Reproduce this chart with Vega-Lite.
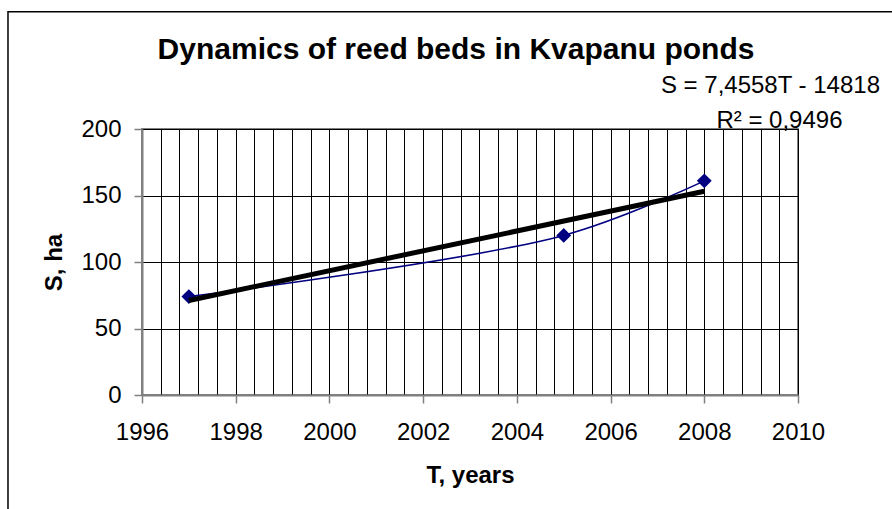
{
  "$schema": "https://vega.github.io/schema/vega-lite/v6.json",
  "width": 656,
  "height": 266,
  "autosize": {"type": "none"},
  "padding": {"left": 142, "top": 129, "right": 94, "bottom": 114},
  "background": "white",
  "title": {
    "text": "Dynamics of reed beds in Kvapanu ponds",
    "fontSize": 30,
    "font": "Liberation Sans",
    "fontWeight": "bold",
    "color": "black",
    "anchor": "middle",
    "frame": "group",
    "dx": -14,
    "offset": -54
  },
  "config": {
    "font": "Liberation Sans",
    "view": {"stroke": "#808080", "strokeWidth": 2}
  },
  "datasets": {
    "reeds": [
      {"T": 1997, "S": 74},
      {"T": 2005, "S": 120},
      {"T": 2008, "S": 161}
    ],
    "equation": [
      {"line1": "S = 7,4558T - 14818", "line2": "R² = 0,9496"}
    ]
  },
  "resolve": {"axis": {"x": "independent", "y": "independent"}},
  "layer": [
    {
      "data": {"name": "equation"},
      "mark": {"type": "rect", "filled": false, "stroke": "black", "strokeWidth": 1.5, "fill": null},
      "encoding": {
        "x": {"datum": 1993.14, "type": "quantitative", "axis": null},
        "x2": {"datum": 2013.5},
        "y": {"datum": 288.2, "type": "quantitative", "axis": null},
        "y2": {"datum": -120}
      }
    },
    {
      "data": {"name": "reeds"},
      "encoding": {
        "x": {
          "field": "T", "type": "quantitative",
          "scale": {"domain": [1996, 2010], "nice": false, "zero": false},
          "axis": {
            "values": [1996, 1996.4, 1996.8, 1997.2, 1997.6, 1998, 1998.4, 1998.8, 1999.2, 1999.6, 2000, 2000.4, 2000.8, 2001.2, 2001.6, 2002, 2002.4, 2002.8, 2003.2, 2003.6, 2004, 2004.4, 2004.8, 2005.2, 2005.6, 2006, 2006.4, 2006.8, 2007.2, 2007.6, 2008, 2008.4, 2008.8, 2009.2, 2009.6, 2010],
            "tickCount": 60,
            "tickMinStep": 0.1,
            "labelExpr": "datum.value % 2 === 0 ? format(datum.value, 'd') : ''",
            "labelFontSize": 24,
            "labelColor": "black",
            "labelFlush": false,
            "labelOverlap": false,
            "labelPadding": 17,
            "tickSize": 8,
            "tickColor": "#808080",
            "tickWidth": 1.5,
            "tickOpacity": {"condition": {"test": "datum.value % 2 === 0", "value": 1}, "value": 0},
            "domainColor": "#808080",
            "domainWidth": 2,
            "grid": true,
            "gridColor": "#000000",
            "gridWidth": 1,
            "gridOpacity": 1,
            "title": "T, years",
            "titleFontSize": 24,
            "titleFontWeight": "bold",
            "titleColor": "black",
            "titlePadding": 19
          }
        },
        "y": {
          "field": "S", "type": "quantitative",
          "scale": {"domain": [0, 200], "nice": false},
          "axis": {
            "values": [0, 50, 100, 150, 200],
            "labelFontSize": 24,
            "labelColor": "black",
            "labelPadding": 13,
            "labelFlush": false,
            "labelOverlap": false,
            "tickSize": 8,
            "tickColor": "#808080",
            "tickWidth": 1.5,
            "domainColor": "#808080",
            "domainWidth": 2,
            "grid": true,
            "gridColor": "#000000",
            "gridWidth": 1,
            "gridOpacity": 1,
            "title": "S, ha",
            "titleFontSize": 24,
            "titleFontWeight": "bold",
            "titleColor": "black",
            "titlePadding": 14
          }
        }
      },
      "layer": [
        {
          "mark": {"type": "line", "interpolate": "catmull-rom", "color": "#000080", "strokeWidth": 1.6}
        },
        {
          "mark": {"type": "point", "shape": "diamond", "filled": true, "size": 220, "color": "#000080", "opacity": 1}
        },
        {
          "transform": [{"regression": "S", "on": "T"}],
          "mark": {"type": "line", "color": "black", "strokeWidth": 5}
        }
      ]
    },
    {
      "data": {"name": "equation"},
      "mark": {"type": "text", "align": "right", "baseline": "alphabetic", "fontSize": 24, "color": "black"},
      "encoding": {
        "x": {"datum": 2011.75, "type": "quantitative", "axis": null},
        "y": {"datum": 227, "type": "quantitative", "axis": null},
        "text": {"field": "line1", "type": "nominal"}
      }
    },
    {
      "data": {"name": "equation"},
      "mark": {"type": "text", "align": "right", "baseline": "alphabetic", "fontSize": 24, "color": "black"},
      "encoding": {
        "x": {"datum": 2010.95, "type": "quantitative", "axis": null},
        "y": {"datum": 201, "type": "quantitative", "axis": null},
        "text": {"field": "line2", "type": "nominal"}
      }
    }
  ]
}
